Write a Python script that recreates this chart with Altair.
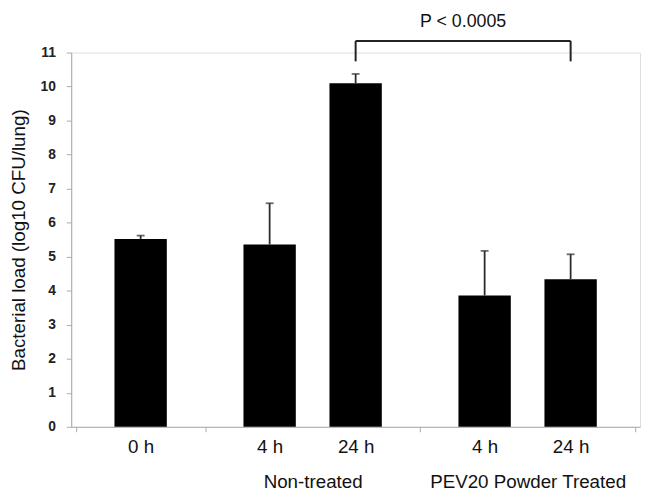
import altair as alt
import pandas as pd

# ---- data ----
groups = ["", "Non-treated", "Non-treated", "PEV20 Powder Treated", "PEV20 Powder Treated"]
times = ["0 h", "4 h", "24 h", "4 h", "24 h"]
means = [5.52, 5.36, 10.10, 3.86, 4.34]
errors = [0.10, 1.21, 0.27, 1.31, 0.73]
p_label = "P < 0.0005"
y_ticks = [0, 1, 2, 3, 4, 5, 6, 7, 8, 9, 10, 11]

# ---- layout of the category axis (slot units) ----
slots = [1.5, 4.5, 6.5, 9.5, 11.5]
boundaries = [0, 3, 8, 13]
group_names = ["Non-treated", "PEV20 Powder Treated"]
group_centers = [5.5, 10.5]

df = pd.DataFrame({
    "pos": slots, "group": groups, "time": times,
    "mean": means, "err": errors,
})
df["top"] = df["mean"] + df["err"]

# bracket between Non-treated 24 h and PEV20 24 h
b_left, b_right = slots[2], slots[4]
bracket_y, leg_y = 11.34, 10.74
bracket_h = pd.DataFrame({"x": [b_left], "x2": [b_right], "y": [bracket_y]})
bracket_v = pd.DataFrame({"x": [b_left, b_right], "y": [leg_y, leg_y], "y2": [bracket_y, bracket_y]})
ptext = pd.DataFrame({"x": [(b_left + b_right) / 2], "y": [bracket_y], "t": [p_label]})

# x-axis label expression
parts = []
for s, t in zip(slots, times):
    parts.append(f"datum.value == {s} ? '{t}'")
for c, g in zip(group_centers, group_names):
    parts.append(f"datum.value == {c} ? ['', '{g}']")
label_expr = " : ".join(parts) + " : ''"
tick_test = f"indexof({boundaries}, datum.value) >= 0"
axis_values = sorted(boundaries + slots + group_centers)

FONT = "Liberation Sans"
xscale = alt.Scale(domain=[0, 13], nice=False, zero=False)
yscale = alt.Scale(domain=[0, 11], nice=False)

x_axis = alt.Axis(
    values=axis_values, labelExpr=label_expr, title=None, grid=False,
    labelOverlap=False, labelFlush=False, labelBound=False, labelLimit=400,
    tickSize=5, tickWidth=1,
    tickColor={"condition": {"test": tick_test, "value": "#aaaaaa"}, "value": "transparent"},
    domainColor="#aaaaaa", domainWidth=1,
    labelFont=FONT, labelFontSize=19, labelColor="#111111",
    labelPadding=6, labelLineHeight=35,
)
y_axis = alt.Axis(
    values=y_ticks, tickCount=len(y_ticks), title="Bacterial load (log10 CFU/lung)", grid=False,
    labelOverlap=False, labelFlush=False,
    tickSize=5, tickColor="#aaaaaa", domainColor="#aaaaaa", domainWidth=1,
    labelFont=FONT, labelFontSize=14, labelColor="#222222", labelFontWeight="bold",
    labelPadding=11, titleFont=FONT, titleFontSize=19, titleFontWeight="normal",
    titleColor="#111111", titlePadding=12,
)

X = lambda f: alt.X(f, scale=xscale, axis=x_axis)
Y = lambda f: alt.Y(f, scale=yscale, axis=y_axis)

bars = alt.Chart(df).mark_bar(size=53, color="black").encode(
    x=X("pos:Q"), y=Y("mean:Q"),
)
err_line = alt.Chart(df).mark_rule(color="#2b2b2b", strokeWidth=1.8).encode(
    x=X("pos:Q"), y=Y("mean:Q"), y2="top:Q",
)
err_cap = alt.Chart(df).mark_tick(orient="horizontal", color="#2b2b2b", size=8, thickness=1.8).encode(
    x=X("pos:Q"), y=Y("top:Q"),
)
br_h = alt.Chart(bracket_h).mark_rule(color="#222222", strokeWidth=2, clip=False).encode(
    x=X("x:Q"), x2="x2:Q", y=Y("y:Q"),
)
br_v = alt.Chart(bracket_v).mark_rule(color="#222222", strokeWidth=2, clip=False).encode(
    x=X("x:Q"), y=Y("y:Q"), y2="y2:Q",
)
ptx = alt.Chart(ptext).mark_text(
    font=FONT, fontSize=18, color="#111111", baseline="bottom", dy=-10, clip=False,
).encode(x=X("x:Q"), y=Y("y:Q"), text="t:N")

chart = alt.layer(bars, err_line, err_cap, br_h, br_v, ptx).properties(
    width=576, height=379,
    autosize=alt.AutoSizeParams(type="none"),
    padding={"left": 64, "top": 42, "right": 5, "bottom": 68},
).configure_view(stroke=None).configure(background="white")

chart.save("out.html", embed_options={"renderer": "svg", "actions": False})
